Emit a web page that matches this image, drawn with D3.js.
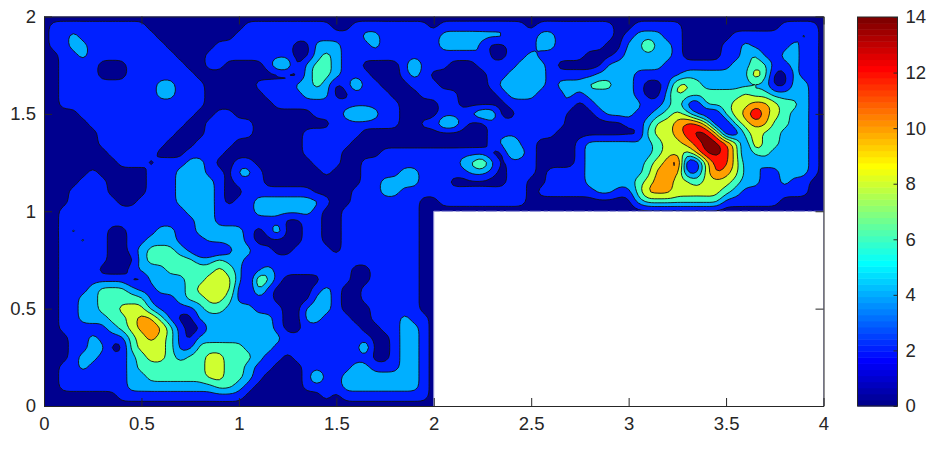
<!DOCTYPE html>
<html>
<head>
<meta charset="utf-8">
<script src="https://cdn.jsdelivr.net/npm/d3@7"></script>
<style>
html,body{margin:0;padding:0;background:#fff}
text{font-family:"Liberation Sans",Arial,sans-serif;font-size:18.5px;fill:#262626}
</style>
</head>
<body>
<svg id="chart" width="939" height="451"></svg>
<script>
const xTicks = [0,0.5,1,1.5,2,2.5,3,3.5,4];
const yTicks = [0,0.5,1,1.5,2];
const barTicks = [0,2,4,6,8,10,12,14];
const levels = [2,4,6,8,10,12,14];
const gridStep = 0.05;
// Band at every grid node (x 0..4 left to right, y 2..0 top to bottom);
// a digit d means the field lies in the band [2d, 2d+2).
const bandRows = [
"0000000000 0000000000 0000000000 0000000000 0000000000 0000000000 0000000000 0000000000 0",
"0111111111 1000000000 0111111111 0011111111 0111111111 0111111110 0111110000 0000001111 0",
"0112111111 1100000000 1111111111 1112211111 1222222211 1221111110 1222110000 0111111121 0",
"0112211111 1110000011 1111110022 2111211111 1222210011 1221111100 2242210000 1121111211 0",
"0011211111 1111000111 1111110023 2111111111 1111120011 2111110001 2222210000 1123112211 0",
"0011110001 1111100110 0001330233 2110000131 1100011112 2210000022 2222111111 1223311211 0",
"0011110001 1111110000 0000000233 2111000121 0000001122 2211111222 2111112222 2225300211 0",
"0011111111 1122111000 0011112232 0131100011 1000001222 2212223332 2100144322 2222200221 0",
"0011111111 1122111000 0001111222 0011110001 1110000122 2111212222 2100243333 3343322221 0",
"0011111111 1111111000 0000111111 1111111000 0110000011 1112101222 2211231033 3445543321 0",
"0000111111 1111110011 0000000011 1233211000 0111233001 1111000122 2112343100 3457543221 0",
"0000011111 1111100111 1100000000 1111111001 1331001111 1111000000 1124456640 0345533221 0",
"0000001111 1111000111 1100000111 1110000000 0000001111 1110000000 0034456775 0034332221 0",
"0000001111 1110001111 0000000111 1100000000 0000001231 1000012222 2223445677 6415332221 0",
"0000000111 1100011110 0000000111 1000011111 1111110032 1010012222 2123443577 6413322221 0",
"0000000011 1011122100 1100000011 1001111111 1112342011 1000012222 2234570046 6421222221 0",
"0000010000 0111222110 2210000001 0001111221 1111221011 1011112222 2235551146 5422112221 0",
"0000111000 0111222210 1110000000 0001122221 1100000011 0011112222 2345544344 4322112110 0",
"0001111000 0111222210 0111111100 0011122111 1111111111 0111111221 1355544444 3211111110 0",
"0001111100 1111222210 1122222221 0011111110 0111111111 0000000000 0233333333 1111110000 0",
"0011111111 1111122211 1122222210 0111111110 0",
"0011111111 1111112211 1111100110 0111111110 0",
"0012111001 1122112222 2101300110 0111111110 0",
"0011211001 1222111222 2100000110 0111111110 0",
"0011111001 2333210001 2211001111 0111111110 0",
"0011111000 2333332232 2111111111 1111111110 0",
"0011110001 2223333343 2012111111 1100111110 0",
"0011111110 0222233444 2043100001 1100111110 0",
"0011123332 1122234444 1031000012 1001111110 0",
"0011223333 3111233443 1111000022 1001111110 0",
"0011223344 4211112332 2211100222 1000111110 0",
"0011222334 5531002222 2222100221 1100111211 0",
"0011111234 5553100222 2222100111 1110011221 0",
"0001121113 4543102222 2222211111 1111001221 0",
"0001122003 4443113333 3222111111 1113001221 0",
"0001221112 3443233443 3321101111 1111001221 0",
"0011211112 3333333443 3211000111 1122111221 0",
"0011111112 2333333443 3210000131 1222222221 0",
"0011111112 2222222233 2100000111 1222222221 0",
"0000000011 1111111111 1000000001 0111111111 0",
"0000000000 0000000000 0000000000 0000000000 0"
];

const nCols = 81, nRows = bandRows.length, K = 3;
const W = nCols * K, H = nRows * K;
const field = new Float64Array(W * H);
bandRows.forEach((r, j) => {
  const s = r.replace(/\s/g, "").padEnd(nCols, "0");
  for (let jj = 0; jj < K; jj++)
    for (let i = 0; i < nCols; i++)
      for (let ii = 0; ii < K; ii++)
        field[(j * K + jj) * W + i * K + ii] = 2 * (+s[i]) + 1;
});
d3.blur2({data: field, width: W, height: H}, 1);

function jet(idx) {
  const t = (idx + 1) / 64;
  const c = v => Math.round(255 * Math.max(0, Math.min(1, v)));
  return d3.rgb(
    c(Math.min(4 * t - 1.5, -4 * t + 4.5)),
    c(Math.min(4 * t - 0.5, -4 * t + 3.5)),
    c(Math.min(4 * t + 0.5, -4 * t + 2.5))
  ).formatHex();
}
const levelColor = v => jet(Math.min(63, Math.floor(v / 14 * 64)));

const svg = d3.select("#chart");
const x = d3.scaleLinear().domain([0, 4]).range([44, 823.5]);
const y = d3.scaleLinear().domain([0, 2]).range([406, 16.5]);
const yBar = d3.scaleLinear().domain([0, 14]).range([406, 17]);
const barX = 857.5, barW = 40;

svg.append("rect").attr("x", x(0)).attr("y", y(2)).attr("width", x(4) - x(0)).attr("height", y(0) - y(2)).attr("fill", levelColor(0));

const path = d3.geoPath(d3.geoTransform({
  point(px, py) { this.stream.point(x((px - K / 2) / K * gridStep), y(2 - (py - K / 2) / K * gridStep)); }
}));
const contours = d3.contours().size([W, H]).thresholds(levels).smooth(true)(field);
svg.append("clipPath").attr("id", "plot").append("rect")
  .attr("x", x(0)).attr("y", y(2)).attr("width", x(4) - x(0)).attr("height", y(0) - y(2));
svg.append("g").attr("clip-path", "url(#plot)").selectAll("path").data(contours).join("path")
  .attr("d", path)
  .attr("fill", d => levelColor(d.value))
  .attr("stroke", "#111")
  .attr("stroke-width", 0.9)
  .attr("stroke-linejoin", "round");

svg.append("rect").attr("x", x(2)).attr("y", y(1)).attr("width", x(4) - x(2)).attr("height", y(0) - y(1)).attr("fill", "#fff");
svg.append("line").attr("x1", x(2)).attr("x2", x(4)).attr("y1", y(1)).attr("y2", y(1))
  .attr("stroke", "#8a8ad2").attr("stroke-width", 1).attr("stroke-dasharray", "6 2 11 3 4 2 14 2");
svg.append("line").attr("x1", x(2)).attr("x2", x(2)).attr("y1", y(1)).attr("y2", y(0))
  .attr("stroke", "#9a9adc").attr("stroke-width", 1);

const fs = "18.5px";
const axisStyle = g => {
  g.select(".domain").attr("stroke", "#262626").attr("stroke-width", 1);
  g.selectAll(".tick line").attr("stroke", "#262626").attr("stroke-width", 1);
};
svg.append("g").attr("transform", `translate(0,${y(0)})`)
  .call(d3.axisBottom(x).tickValues(xTicks).tickSizeInner(-8).tickSizeOuter(0).tickPadding(11).tickFormat(d3.format("")))
  .call(axisStyle).call(g => g.selectAll("text").attr("fill", "#262626").style("font-size", fs));
svg.append("g").attr("transform", `translate(0,${y(2)})`)
  .call(d3.axisTop(x).tickValues(xTicks).tickSizeInner(-8).tickSizeOuter(0).tickFormat(""))
  .call(axisStyle);
svg.append("g").attr("transform", `translate(${x(0)},0)`)
  .call(d3.axisLeft(y).tickValues(yTicks).tickSizeInner(-8).tickSizeOuter(0).tickPadding(8).tickFormat(d3.format("")))
  .call(axisStyle).call(g => g.selectAll("text").attr("fill", "#262626").style("font-size", fs));
svg.append("g").attr("transform", `translate(${x(4)},0)`)
  .call(d3.axisRight(y).tickValues(yTicks).tickSizeInner(-8).tickSizeOuter(0).tickFormat(""))
  .call(axisStyle);

svg.append("g").selectAll("rect").data(d3.range(64)).join("rect")
  .attr("x", barX).attr("width", barW)
  .attr("y", i => yBar((i + 1) / 64 * 14))
  .attr("height", i => yBar(i / 64 * 14) - yBar((i + 1) / 64 * 14) + 0.5)
  .attr("fill", i => jet(i));
svg.append("rect").attr("x", barX).attr("y", yBar(14)).attr("width", barW).attr("height", yBar(0) - yBar(14))
  .attr("fill", "none").attr("stroke", "#262626").attr("stroke-width", 1);
svg.append("g").attr("transform", `translate(${barX + barW},0)`)
  .call(d3.axisRight(yBar).tickValues(barTicks).tickSizeInner(-4).tickSizeOuter(0).tickPadding(8).tickFormat(d3.format("d")))
  .call(axisStyle).call(g => g.select(".domain").remove())
  .call(g => g.selectAll("text").attr("fill", "#262626").style("font-size", fs));
</script>
</body>
</html>
